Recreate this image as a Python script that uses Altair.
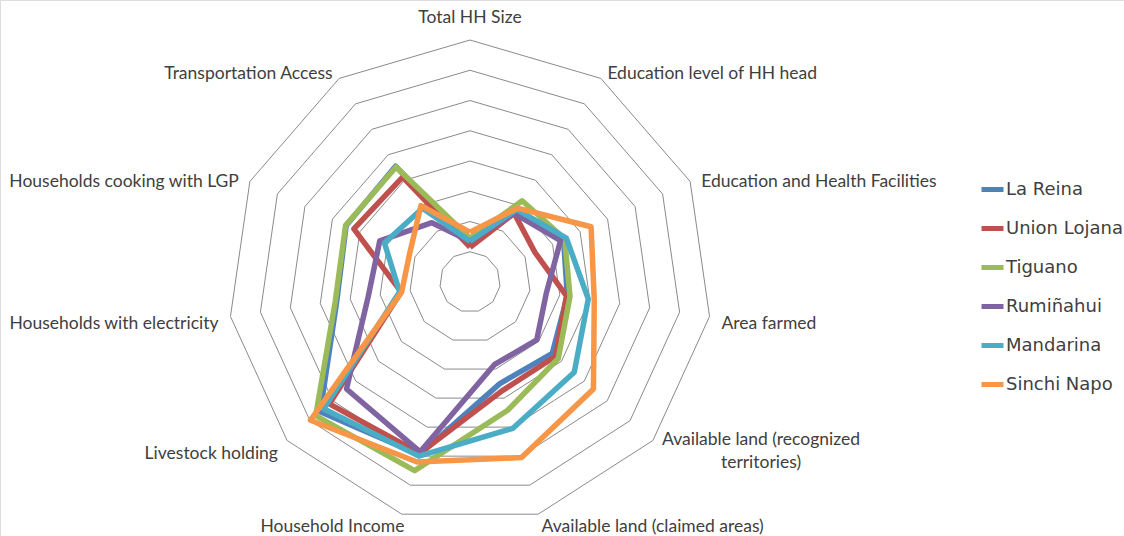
import math

import altair as alt
import pandas as pd

# Spokes of the radar, clockwise from the top
categories = [
    "Total HH Size",
    "Education level of HH head",
    "Education and Health Facilities",
    "Area farmed",
    "Available land (recognized territories)",
    "Available land (claimed areas)",
    "Household Income",
    "Livestock holding",
    "Households with electricity",
    "Households cooking with LGP",
    "Transportation Access",
]

communities = ["La Reina", "Union Lojana", "Tiguano", "Rumiñahui", "Mandarina", "Sinchi Napo"]
palette = ["#4F81BD", "#C0504D", "#9BBB59", "#8064A2", "#4BACC6", "#F79646"]

# Scores per community, one per spoke in the order above
la_reina = [1.2, 2.85, 3.4, 3.25, 3.6, 3.5, 5.95, 6.55, 4.45, 4.5, 4.55]
union_lojana = [1.15, 2.7, 2.36, 3.22, 3.75, 3.75, 5.9, 6.15, 2.3, 4.22, 4.12]
tiguano = [1.45, 3.19, 3.44, 3.34, 3.86, 4.42, 6.5, 6.75, 4.5, 4.52, 4.52]
rumiñahui = [1.35, 2.7, 3.29, 2.55, 2.92, 2.85, 5.85, 5.4, 3.4, 3.28, 2.33]
mandarina = [1.35, 2.85, 3.5, 3.95, 4.56, 5.04, 6.0, 6.4, 2.35, 3.11, 2.9]
sinchi_napo = [1.65, 2.9, 4.4, 4.15, 5.4, 6.05, 6.2, 6.98, 2.28, 2.2, 3.0]

scores = [la_reina, union_lojana, tiguano, rumiñahui, mandarina, sinchi_napo]

# Concentric grid levels
grid_levels = [1, 2, 3, 4, 5, 6, 7, 8]

W, H = 1124, 536
UNIT = 30.25          # pixels per score unit
CX, CY = 470, 282     # centre of the radar in pixels
N = len(categories)


def polar(r, k):
    a = 2 * math.pi * k / N
    return r * math.sin(a), r * math.cos(a)


series_rows = []
for name, vals in zip(communities, scores):
    for j in range(N + 1):
        k = j % N
        x, y = polar(vals[k], k)
        series_rows.append({"series": name, "idx": j, "x": x, "y": y, "value": vals[k]})
series_df = pd.DataFrame(series_rows)

grid_rows = []
for lvl in grid_levels:
    for j in range(N + 1):
        x, y = polar(lvl, j % N)
        grid_rows.append({"ring": lvl, "idx": j, "x": x, "y": y})
grid_df = pd.DataFrame(grid_rows)

# Spoke labels sit just outside the outer ring; the side decides the alignment
LABEL_R = max(grid_levels) + 0.4
label_rows = []
for k, cat in enumerate(categories):
    x, y = polar(LABEL_R, k)
    if k == 0:
        side = "top"
    elif k == 4:
        side = "wrap"
    elif k in (1, 2, 3):
        side = "right"
    elif k == 5:
        side = "bottom_right"
    elif k == 6:
        side = "bottom_left"
    else:
        side = "left"
    label_rows.append({"label": cat, "x": x, "y": y, "side": side})
label_df = pd.DataFrame(label_rows)

xs = alt.Scale(domain=[-CX / UNIT, (W - CX) / UNIT], nice=False, zero=False)
ys = alt.Scale(domain=[-(H - CY) / UNIT, CY / UNIT], nice=False, zero=False)
X = alt.X("x:Q", scale=xs, axis=None)
Y = alt.Y("y:Q", scale=ys, axis=None)

grid = alt.Chart(grid_df).mark_line(color="#8a8a8a", strokeWidth=1).encode(
    x=X, y=Y, detail="ring:N", order="idx:Q"
)

color = alt.Color(
    "series:N",
    scale=alt.Scale(domain=communities, range=palette),
    legend=alt.Legend(
        title=None,
        orient="none",
        legendX=979,
        legendY=176,
        symbolType="stroke",
        symbolStrokeWidth=5,
        symbolSize=484,
        labelFont="DejaVu Sans",
        labelFontSize=18,
        labelColor="#404040",
        labelOffset=0,
        rowPadding=15,
    ),
)

base = alt.Chart(series_df).mark_line(strokeWidth=5.5, strokeJoin="round").encode(
    x=X, y=Y, color=color, order="idx:Q"
)
series_layers = [base.transform_filter(alt.datum.series == name) for name in communities]

text_style = dict(font="Lato", fontSize=17.5, color="#404040", baseline="middle")
labels_base = alt.Chart(label_df)


def label_layer(side, **kw):
    return labels_base.transform_filter(alt.datum.side == side).mark_text(
        **kw, **text_style
    ).encode(x=X, y=Y, text="label:N")


lab_right = label_layer("right", align="left", dy=6)
lab_left = label_layer("left", align="right", dy=6)
lab_bottom_r = label_layer("bottom_right", align="left", dy=1)
lab_bottom_l = label_layer("bottom_left", align="right", dx=6, dy=1)
lab_top = label_layer("top", align="center", dy=-10)
lab_wrap = labels_base.transform_filter(alt.datum.side == "wrap").transform_calculate(
    lines="['Available land (recognized', 'territories)']"
).mark_text(
    align="center", dx=99, dy=-8, lineHeight=23, **text_style
).encode(x=X, y=Y, text="lines:N")

chart = alt.layer(
    grid, *series_layers, lab_right, lab_left, lab_bottom_r, lab_bottom_l, lab_top, lab_wrap
).properties(
    width=W, height=H, autosize="none", padding=0
).configure_view(stroke=None).configure(background="white")

chart.save("out.html", embed_options={"renderer": "svg", "actions": False})
